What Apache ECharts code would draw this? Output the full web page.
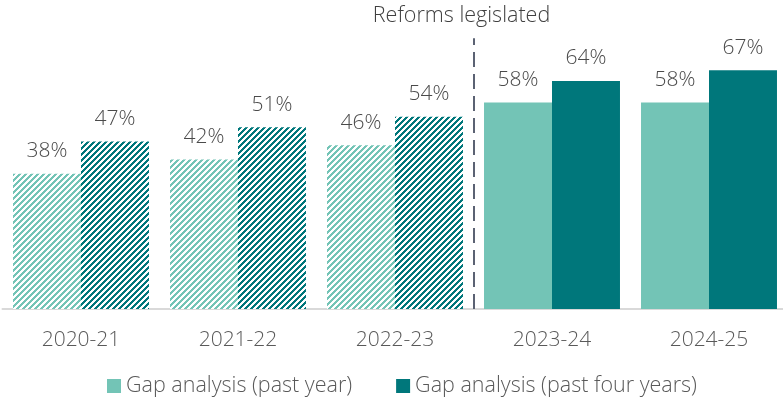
<!DOCTYPE html>
<html>
<head>
<meta charset="utf-8">
<script src="https://cdn.jsdelivr.net/npm/echarts@6/dist/echarts.min.js"></script>
<style>
  html, body { margin: 0; padding: 0; background: #ffffff; }
  #chart { width: 783px; height: 405px; }
</style>
</head>
<body>
<div id="chart"></div>
<script>
// Financial years shown on the category axis
const years = ['2020-21', '2021-22', '2022-23', '2023-24', '2024-25'];
// Share of entities with a gap analysis (%)
const pastYear = [38, 42, 46, 58, 58];
const pastFourYears = [47, 51, 54, 64, 67];
// Years before the reforms were legislated (drawn hatched)
const preReformCount = 3;
const seriesNames = ['Gap analysis (past year)', 'Gap analysis (past four years)'];
const dividerLabel = 'Reforms legislated';

const LIGHT = '#73c4b6';
const DARK = '#00777b';
const TEXT = '#595959';
const FONT = '"Open Sans", "Noto Sans", sans-serif';
const WEIGHT = 300;

// Small repeating tile with "/" diagonal stripes on white
function stripeTile(color) {
  const size = 6;
  const c = document.createElement('canvas');
  c.width = size;
  c.height = size;
  const ctx = c.getContext('2d');
  ctx.fillStyle = '#ffffff';
  ctx.fillRect(0, 0, size, size);
  ctx.fillStyle = color;
  for (let y = 0; y < size; y++) {
    for (let x = 0; x < size; x++) {
      if ((x + y) % size < 3) ctx.fillRect(x, y, 1, 1);
    }
  }
  return { image: c, repeat: 'repeat' };
}

function hatched(values, color) {
  const pattern = stripeTile(color);
  return values.map((v, i) => {
    if (i >= preReformCount) return v;
    return { value: v, itemStyle: { color: pattern } };
  });
}

const chart = echarts.init(document.getElementById('chart'), null, { renderer: 'canvas' });

const barLabel = {
  show: true,
  position: 'top',
  distance: 12,
  formatter: '{c}%',
  color: '#4a4a4a',
  fontFamily: FONT,
  fontWeight: WEIGHT,
  fontSize: 21
};

chart.setOption({
  animation: false,
  textStyle: { fontFamily: FONT },
  grid: {
    left: 2.5, width: 785, top: 24, bottom: 96,
    containLabel: false, outerBoundsMode: 'none'
  },
  legend: {
    data: seriesNames,
    bottom: 3,
    left: 102,
    itemWidth: 14,
    itemHeight: 14,
    itemGap: 44,
    icon: 'rect',
    textStyle: { color: TEXT, fontFamily: FONT, fontWeight: WEIGHT, fontSize: 21.5 }
  },
  xAxis: [
    {
      type: 'category',
      data: years,
      axisTick: { show: false },
      axisLine: { lineStyle: { color: '#d9d9d9', width: 2 } },
      axisLabel: { color: TEXT, fontFamily: FONT, fontWeight: WEIGHT, fontSize: 21, margin: 21 }
    },
    {
      type: 'value',
      min: 0,
      max: years.length,
      show: false
    }
  ],
  yAxis: {
    type: 'value',
    min: 0,
    max: 80,
    show: false,
    splitLine: { show: false }
  },
  series: [
    {
      name: seriesNames[0],
      type: 'bar',
      data: hatched(pastYear, LIGHT),
      itemStyle: { color: LIGHT },
      barGap: '0%',
      barCategoryGap: '13.4%',
      label: barLabel
    },
    {
      name: seriesNames[1],
      type: 'bar',
      data: hatched(pastFourYears, DARK),
      itemStyle: { color: DARK },
      barGap: '0%',
      barCategoryGap: '13.4%',
      label: barLabel
    },
    {
      // Divider between pre- and post-reform years
      name: 'divider',
      type: 'line',
      xAxisIndex: 1,
      data: [],
      silent: true,
      markLine: {
        silent: true,
        symbol: ['none', 'none'],
        lineStyle: { color: '#5b6273', width: 2, type: [15, 7] },
        label: {
          show: true,
          position: 'end',
          distance: 11,
          padding: [0, 24, 0, 0],
          formatter: dividerLabel,
          color: '#404040',
          fontFamily: FONT,
          fontWeight: WEIGHT,
          fontSize: 21.5
        },
        data: [[{ coord: [preReformCount, 0] }, { coord: [preReformCount, 76] }]]
      }
    }
  ]
});
</script>
</body>
</html>
